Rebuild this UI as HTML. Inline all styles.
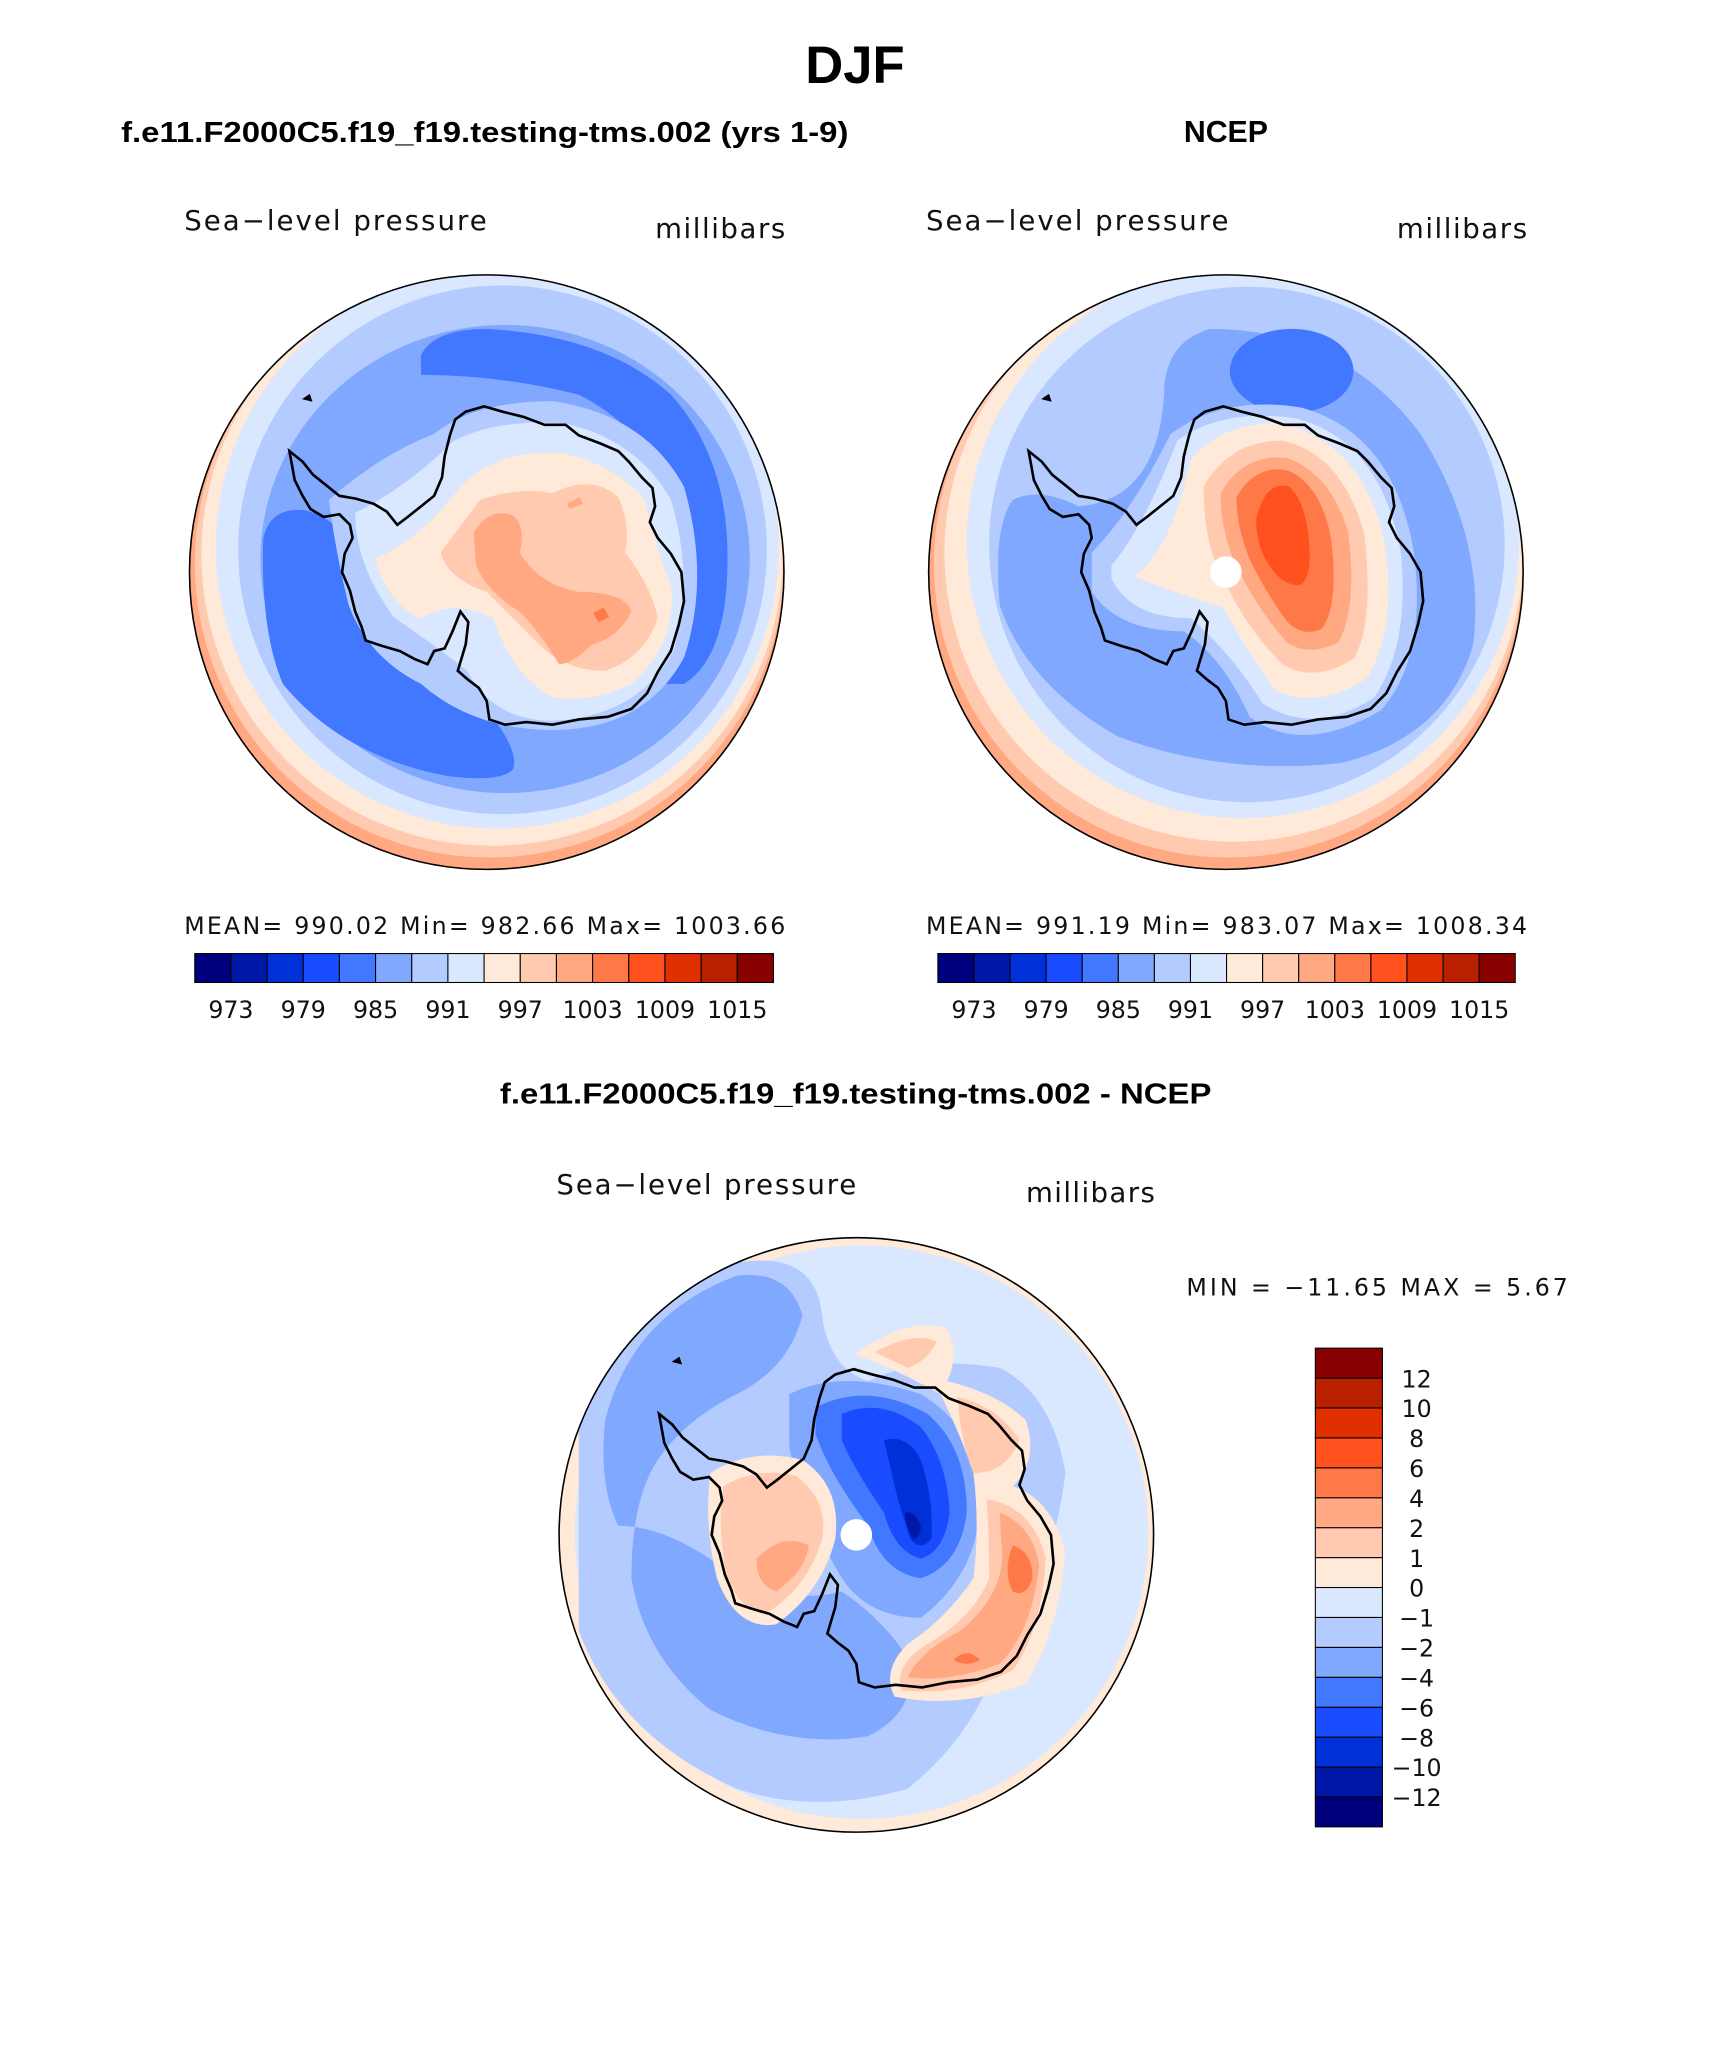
<!DOCTYPE html>
<html><head><meta charset="utf-8"><title>DJF Sea-level pressure</title>
<style>
html,body{margin:0;padding:0;background:#fff;}
svg{display:block;}
.b{font-family:"Liberation Sans",sans-serif;font-weight:bold;}
.l{font-family:"DejaVu Sans","Liberation Sans",sans-serif;font-weight:normal;fill:#111;}
</style></head>
<body>
<svg id="fig" width="1710" height="2061" viewBox="0 0 1300 1567" xmlns="http://www.w3.org/2000/svg">
<defs>
<clipPath id="cL"><circle cx="370" cy="435" r="226"/></clipPath>
<clipPath id="cR"><circle cx="932" cy="435" r="226"/></clipPath>
<clipPath id="cB"><circle cx="651" cy="1167" r="226"/></clipPath>
<path id="coast" fill="none" stroke="#000" stroke-width="2" d="M -150,-92 L -146,-70 L -140,-58 L -134,-48 L -124,-42 L -112,-44 L -104,-36 L -102,-26 L -108,-14 L -110,0 L -104,14 L -100,30 L -95,42 L -92,52 L -80,56 L -66,60 L -55,66 L -45,70 L -40,60 L -32,58 L -26,45 L -20,30 L -14,38 L -16,55 L -22,75 L -14,82 L -6,88 L 0,98 L 2,112 L 14,116 L 30,114 L 50,116 L 70,112 L 92,110 L 110,104 L 122,92 L 130,76 L 140,60 L 146,40 L 150,22 L 148,0 L 140,-14 L 130,-26 L 124,-38 L 128,-50 L 126,-64 L 118,-72 L 108,-84 L 100,-92 L 86,-98 L 70,-104 L 60,-112 L 44,-112 L 28,-118 L 12,-122 L -2,-126 L -16,-122 L -24,-116 L -28,-104 L -32,-88 L -34,-72 L -40,-58 L -50,-50 L -60,-42 L -68,-36 L -76,-46 L -86,-52 L -100,-56 L -112,-58 L -122,-66 L -132,-74 L -140,-84 Z M -138,-132 l 3,-2 l 1,3 z"/>
</defs>

<text class="b" x="650" y="63" font-size="40" text-anchor="middle">DJF</text>
<text class="b" x="92" y="108" font-size="22" textLength="553" lengthAdjust="spacingAndGlyphs">f.e11.F2000C5.f19_f19.testing-tms.002 (yrs 1-9)</text>
<text class="b" x="932" y="108" font-size="23" text-anchor="middle">NCEP</text>
<text class="b" x="380" y="839" font-size="22" textLength="541" lengthAdjust="spacingAndGlyphs">f.e11.F2000C5.f19_f19.testing-tms.002 - NCEP</text>

<text class="l" x="140" y="175" font-size="21" textLength="230">Sea−level pressure</text>
<text class="l" x="498" y="181" font-size="21" textLength="99">millibars</text>
<text class="l" x="140" y="710" font-size="18" textLength="457">MEAN= 990.02   Min= 982.66   Max= 1003.66</text>
<text class="l" x="704" y="175" font-size="21" textLength="230">Sea−level pressure</text>
<text class="l" x="1062" y="181" font-size="21" textLength="99">millibars</text>
<text class="l" x="704" y="710" font-size="18" textLength="457">MEAN= 991.19   Min= 983.07   Max= 1008.34</text>
<text class="l" x="423" y="908" font-size="21" textLength="228">Sea−level pressure</text>
<text class="l" x="780" y="914" font-size="21" textLength="98">millibars</text>
<text class="l" x="902" y="985" font-size="18" textLength="290">MIN = −11.65 MAX =    5.67</text>

<g clip-path="url(#cL)">
<circle cx="370" cy="435" r="226" fill="#ffa882"/>
<circle cx="372" cy="428" r="224" fill="#ffcab0"/>
<circle cx="374" cy="422" r="221" fill="#ffe9d8"/>
<circle cx="378" cy="416" r="214" fill="#d9e8ff"/>
<circle cx="382" cy="418" r="201" fill="#b3cbff"/>
<ellipse cx="384" cy="425" rx="186" ry="178" fill="#80a8ff"/>
<path fill="#4178ff" d="M 320,270 Q 330,250 370,250 Q 460,255 510,300 Q 555,350 553,430 Q 552,500 520,520 L 505,520 Q 520,460 515,400 Q 500,330 440,300 Q 380,285 320,285 Z"/>
<path fill="#4178ff" d="M 200,410 Q 205,385 232,388 Q 262,395 270,430 Q 280,470 300,500 Q 340,520 370,540 Q 395,570 390,585 Q 380,595 340,590 Q 260,575 215,520 Q 198,480 200,410 Z"/>
<path fill="#b3cbff" d="M 250,380 Q 290,345 330,330 Q 360,305 420,305 Q 490,315 520,370 Q 540,440 520,500 Q 490,555 420,555 Q 360,555 320,520 Q 280,500 265,460 Q 255,420 250,380 Z"/>
<path fill="#d9e8ff" d="M 270,390 Q 310,370 345,335 Q 380,318 430,322 Q 485,335 510,380 Q 528,440 512,495 Q 485,545 420,548 Q 375,548 355,510 Q 330,490 300,470 Q 270,430 270,390 Z"/>
<path fill="#ffe9d8" d="M 285,425 Q 320,410 350,370 Q 380,340 430,345 Q 470,355 490,380 Q 500,420 510,445 Q 515,490 480,520 Q 450,535 420,530 Q 390,515 375,470 Q 345,455 320,470 Q 295,460 285,425 Z"/>
<path fill="#ffcab0" d="M 335,420 Q 350,400 365,380 Q 395,370 420,375 Q 450,360 470,378 Q 480,400 475,420 Q 495,445 500,470 Q 490,500 460,510 Q 430,510 410,490 Q 390,470 370,450 Q 340,440 335,420 Z"/>
<path fill="#ffa882" d="M 360,405 Q 372,385 390,392 Q 400,400 395,420 Q 410,445 440,450 Q 475,450 480,465 Q 470,485 450,490 Q 435,505 425,505 Q 410,480 395,465 Q 370,450 362,430 Z"/>
<path fill="#ff7848" d="M 451,466 l 8,-4 l 4,7 l -8,4 z"/>
<path fill="#ffa882" d="M 431,383 l 10,-5 l 2,5 l -10,4 z"/>
<use href="#coast" transform="translate(370,435)"/>
</g>
<circle cx="370" cy="435" r="226" fill="none" stroke="#000" stroke-width="1.2"/>

<g clip-path="url(#cR)">
<circle cx="932" cy="435" r="226" fill="#ffa882"/>
<circle cx="934" cy="428" r="224" fill="#ffcab0"/>
<circle cx="938" cy="420" r="220" fill="#ffe9d8"/>
<circle cx="945" cy="412" r="210" fill="#d9e8ff"/>
<circle cx="948" cy="414" r="196" fill="#b3cbff"/>
<path fill="#80a8ff" d="M 770,380 Q 790,370 820,385 Q 880,380 885,300 Q 885,260 920,250 Q 1020,250 1080,330 Q 1130,410 1120,490 Q 1100,560 1020,580 Q 930,590 850,560 Q 780,520 760,460 Q 755,400 770,380 Z"/>
<ellipse cx="982" cy="282" rx="47" ry="32" fill="#4178ff"/>
<path fill="#b3cbff" d="M 830,420 Q 860,390 890,330 Q 930,300 990,310 Q 1060,330 1075,420 Q 1085,500 1050,540 Q 990,575 950,545 Q 930,500 900,480 Q 850,480 830,450 Z"/>
<path fill="#d9e8ff" d="M 845,430 Q 870,400 895,335 Q 930,310 985,318 Q 1050,335 1065,420 Q 1072,490 1045,530 Q 1000,560 960,535 Q 935,495 905,470 Q 860,470 845,440 Z"/>
<path fill="#ffe9d8" d="M 862,438 Q 890,420 905,350 Q 930,320 975,322 Q 1030,335 1050,400 Q 1065,470 1040,515 Q 1005,540 970,525 Q 945,490 930,462 Q 890,450 862,438 Z"/>
<path fill="#ffcab0" d="M 915,370 Q 935,335 975,335 Q 1020,345 1037,405 Q 1045,470 1030,500 Q 1000,520 975,505 Q 950,480 935,450 Q 915,420 915,370 Z"/>
<path fill="#ffa882" d="M 928,375 Q 945,345 978,348 Q 1012,360 1025,405 Q 1032,460 1018,488 Q 995,500 978,488 Q 958,465 945,440 Q 928,410 928,375 Z"/>
<path fill="#ff7848" d="M 940,378 Q 955,352 980,358 Q 1005,370 1012,410 Q 1018,460 1005,478 Q 990,485 978,472 Q 962,450 950,425 Q 940,400 940,378 Z"/>
<path fill="#ff501e" d="M 955,395 Q 962,365 980,370 Q 992,380 995,410 Q 998,440 988,445 Q 975,445 965,430 Q 955,415 955,395 Z"/>
<circle cx="932" cy="435" r="12" fill="#fff"/>
<use href="#coast" transform="translate(932,435)"/>
</g>
<circle cx="932" cy="435" r="226" fill="none" stroke="#000" stroke-width="1.2"/>

<g clip-path="url(#cB)">
<circle cx="651" cy="1167" r="226" fill="#ffe9d8"/>
<circle cx="655" cy="1165" r="218" fill="#d9e8ff"/>
<path fill="#b3cbff" d="M 440,1080 Q 470,990 560,960 Q 620,950 625,1000 Q 630,1040 660,1050 Q 700,1030 760,1040 Q 800,1060 810,1120 Q 800,1200 760,1260 Q 740,1320 690,1360 Q 620,1380 560,1360 Q 470,1320 440,1240 Z"/>
<path fill="#80a8ff" d="M 460,1080 Q 480,1000 560,970 Q 600,965 610,1000 Q 600,1040 560,1060 Q 520,1080 500,1110 Q 480,1140 480,1200 Q 490,1260 540,1300 Q 600,1330 660,1320 Q 700,1300 690,1260 Q 670,1230 640,1210 Q 600,1220 560,1200 Q 510,1160 470,1160 Q 455,1130 460,1080 Z"/>
<path fill="#80a8ff" d="M 600,1060 Q 640,1040 700,1060 Q 750,1090 745,1150 Q 740,1200 700,1230 Q 660,1230 640,1200 Q 610,1150 600,1100 Z"/>
<path fill="#4178ff" d="M 620,1070 Q 660,1050 705,1075 Q 735,1100 735,1150 Q 730,1190 700,1200 Q 670,1195 660,1160 Q 630,1120 620,1090 Z"/>
<path fill="#1a4cff" d="M 640,1075 Q 670,1062 700,1085 Q 720,1110 722,1150 Q 718,1180 700,1185 Q 680,1180 672,1150 Q 648,1115 640,1095 Z"/>
<path fill="#0030d8" d="M 672,1095 Q 690,1090 700,1110 Q 710,1140 708,1170 Q 700,1180 692,1170 Q 682,1140 678,1120 Z"/>
<path fill="#0018a8" d="M 688,1150 Q 695,1148 700,1160 Q 700,1170 694,1170 Q 688,1160 688,1150 Z"/>
<path fill="#ffe9d8" d="M 540,1120 Q 570,1100 610,1110 Q 640,1130 635,1170 Q 625,1210 590,1235 Q 560,1240 545,1200 Q 535,1160 540,1120 Z"/>
<path fill="#ffcab0" d="M 550,1130 Q 575,1115 605,1122 Q 630,1140 625,1170 Q 615,1205 585,1225 Q 562,1228 552,1195 Q 545,1160 550,1130 Z"/>
<path fill="#ffa882" d="M 575,1185 Q 595,1165 615,1175 Q 612,1195 590,1210 Q 575,1205 575,1185 Z"/>
<path fill="#ffe9d8" d="M 650,1030 Q 690,1000 720,1010 Q 730,1030 720,1050 Q 760,1060 780,1080 Q 790,1110 770,1130 Q 800,1140 810,1180 Q 805,1240 780,1280 Q 730,1300 680,1290 Q 670,1270 690,1250 Q 720,1230 740,1200 Q 745,1160 740,1120 Q 730,1090 715,1060 Q 680,1040 650,1030 Z"/>
<path fill="#ffcab0" d="M 665,1028 Q 695,1012 712,1020 Q 705,1035 690,1040 Z M 728,1062 Q 760,1070 775,1095 Q 765,1120 740,1120 Q 730,1095 728,1062 Z M 750,1140 Q 785,1145 795,1185 Q 792,1240 770,1270 Q 730,1290 685,1285 Q 680,1265 705,1250 Q 740,1230 752,1200 Q 752,1165 750,1140 Z"/>
<path fill="#ffa882" d="M 760,1150 Q 785,1160 790,1190 Q 785,1240 760,1265 Q 720,1280 690,1275 Q 700,1255 730,1240 Q 760,1215 762,1185 Z"/>
<path fill="#ff7848" d="M 770,1175 Q 785,1180 785,1200 Q 780,1215 770,1210 Q 762,1195 770,1175 Z M 725,1262 Q 735,1252 745,1262 Q 735,1268 725,1262 Z"/>
<circle cx="651" cy="1167" r="12" fill="#fff"/>
<use href="#coast" transform="translate(651,1167)"/>
</g>
<circle cx="651" cy="1167" r="226" fill="none" stroke="#000" stroke-width="1.2"/>

<g id="cbars"></g>

<script>
const cbColors = ["#00007f","#0018a8","#0030d8","#1a4cff","#4178ff","#80a8ff","#b3cbff","#d9e8ff","#ffe9d8","#ffcab0","#ffa882","#ff7848","#ff501e","#e03000","#b82000","#880000"];
const absLevels = [973,976,979,982,985,988,991,994,997,1000,1003,1006,1009,1012,1015];
const absTickLabels = ["973","979","985","991","997","1003","1009","1015"];
const diffLevels = [-12,-10,-8,-6,-4,-2,-1,0,1,2,4,6,8,10,12];
const diffTickLabels = ["−12","−10","−8","−6","−4","−2","−1","0","1","2","4","6","8","10","12"];

const NS = "http://www.w3.org/2000/svg";
const root = document.getElementById("cbars");
function mk(tag, attrs){ const e=document.createElementNS(NS,tag); for(const k in attrs) e.setAttribute(k,attrs[k]); return e; }

function hbar(x0, y0, w, h, name){
  const g = mk("g",{});
  
  
  const n = cbColors.length, bw = w/n;
  cbColors.forEach((c,i)=>{
    const r = mk("rect",{x:x0+i*bw,y:y0,width:bw,height:h,fill:c,stroke:"#000","stroke-width":0.8});
    
    
    g.appendChild(r);
  });
  absTickLabels.forEach(lbl=>{
    const k = absLevels.indexOf(+lbl) + 1;
    const t = mk("text",{x:x0+k*bw,y:y0+h+27,"font-size":18,"text-anchor":"middle",class:"l"});
    t.textContent = lbl;
    
    
    g.appendChild(t);
  });
  root.appendChild(g);
}
hbar(148,725,440,22,'model-colorbar');
hbar(713,725,439,22,'ncep-colorbar');

(function vbar(){
  const x0=1000,y0=1025,w=51,h=364;
  const g = mk("g",{});
  
  
  const n=cbColors.length, bh=h/n;
  cbColors.forEach((c,i)=>{
    const r = mk("rect",{x:x0,y:y0+(n-1-i)*bh,width:w,height:bh,fill:c,stroke:"#000","stroke-width":0.8});
    
    
    g.appendChild(r);
  });
  diffLevels.forEach((v,i)=>{
    const yb = y0 + (n-1-i)*bh;
    const t = mk("text",{x:x0+w+26,y:yb+7,"font-size":18,"text-anchor":"middle",class:"l"});
    t.textContent = diffTickLabels[i];
    
    
    g.appendChild(t);
  });
  root.appendChild(g);
})();
</script>
</svg>
</body></html>
